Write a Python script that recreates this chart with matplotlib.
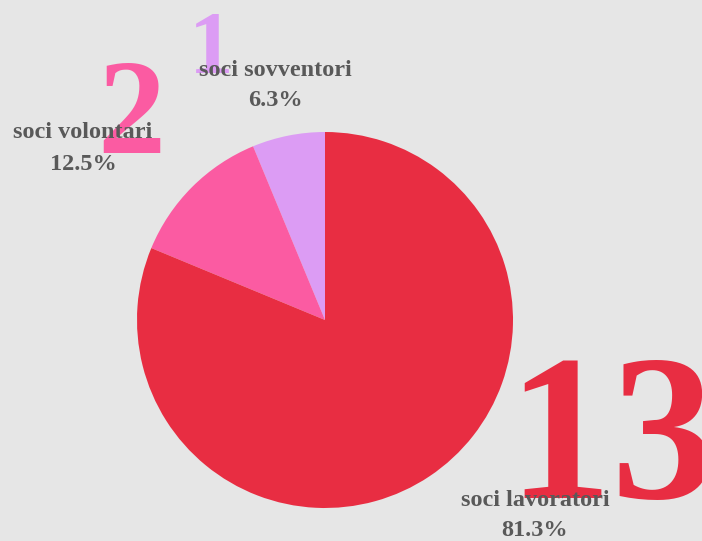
import matplotlib
matplotlib.use("Agg")
import matplotlib.pyplot as plt
import math

# Composizione dei soci
categorie = ["soci sovventori", "soci volontari", "soci lavoratori"]
valori = [1, 2, 13]
colori = ["#DC9CF4", "#FB5BA2", "#E82D42"]

totale = sum(valori)


def percentuale(v):
    # arrotondamento "mezzo in su" (6.25 -> 6.3)
    p = math.floor(v / totale * 1000 + 0.5) / 10
    return f"{p:.1f}%"


W, H = 702, 541
fig = plt.figure(figsize=(W / 100, H / 100), dpi=100, facecolor="#E6E6E6")
ax = fig.add_axes([0, 0, 1, 1])

# torta: parte dall'alto e gira in senso antiorario
ax.pie(valori, colors=colori, startangle=90, counterclock=True,
       center=(325, H - 320), radius=188, frame=True,
       wedgeprops=dict(linewidth=0))
ax.set_xlim(0, W)
ax.set_ylim(0, H)
ax.set_aspect("equal")
ax.axis("off")

serif = ["Liberation Serif", "DejaVu Serif"]

# numeri grandi dietro le etichette
pos_numeri = [(211, H - 72, 64), (131, H - 153, 98), (612, H - 498, 150)]
for v, c, (x, y, fs) in zip(valori, colori, pos_numeri):
    ax.text(x, y, str(v), color=c, fontsize=fs, family=serif,
            fontweight="bold", ha="center", va="baseline", zorder=3)

# etichette con percentuale
pos_etichette = [(275, H - 70), (83, H - 133), (535, H - 500)]
for nome, v, (x, y) in zip(categorie, valori, pos_etichette):
    ax.text(x, y, nome, color="#595959", fontsize=17.5, family=serif,
            fontweight="bold", ha="center", va="center", zorder=5)
    ax.text(x, y - 31, percentuale(v), color="#595959", fontsize=17.5,
            family=serif, fontweight="bold", ha="center", va="center",
            zorder=5)

fig.savefig("out.png", dpi=100, facecolor=fig.get_facecolor())
